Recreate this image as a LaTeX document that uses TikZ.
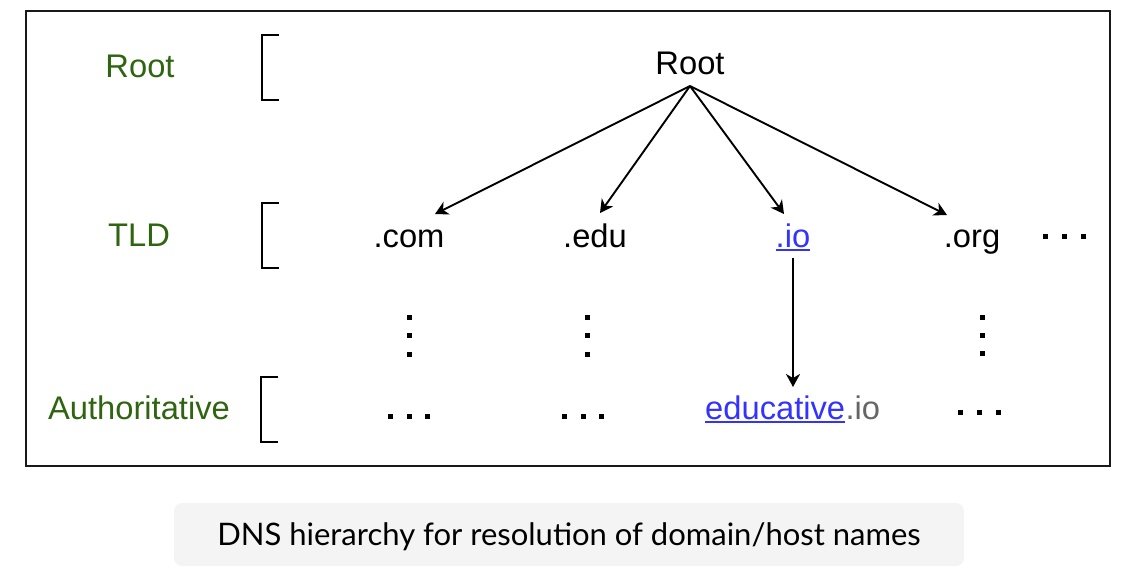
\documentclass[tikz,border=0pt]{standalone}
\usepackage{fontspec}
\setmainfont{Liberation Sans}
\newfontfamily\capfont{Lato}
\usetikzlibrary{arrows.meta}
\definecolor{lvlgreen}{HTML}{2F6410}
\definecolor{linkblue}{HTML}{3333FF}
\definecolor{iogray}{HTML}{666666}
\definecolor{capbg}{HTML}{F4F4F4}
\begin{document}
\begin{tikzpicture}[x=1pt,y=-1pt,
  txt/.style={inner sep=0pt, anchor=base, font=\fontsize{32.7}{39}\selectfont},
  lvl/.style={txt, text=lvlgreen},
  link/.style={txt, text=linkblue},
  arr/.style={line width=1.9pt, -{Stealth[length=13pt,width=14pt,inset=4pt]}},
  brk/.style={line width=1.8pt},
  sq/.style={fill=black, minimum size=5pt, inner sep=0pt, draw=none}
]
\useasboundingbox (0,0) rectangle (1142,572);
% frame
\draw[line width=1.8pt, draw=black!90] (26,11) rectangle (1110,466);
% level labels
\node[lvl] (lroot) at (140,78) {Root};
\node[lvl] (ltld) at (139,246) {TLD};
\node[lvl] (lauth) at (139,419) {Authoritative};
% brackets
\draw[brk] (279,35) -- (262,35) -- (262,100) -- (279,100);
\draw[brk] (279,203) -- (262,203) -- (262,268) -- (279,268);
\draw[brk] (278,377) -- (261,377) -- (261,442) -- (278,442);
% nodes
\node[txt] (root) at (690,75) {Root};
\node[txt] (com) at (409,247) {.com};
\node[txt] (edu) at (595,247) {.edu};
\node[link] (io) at (793,247) {.io};
\node[txt] (org) at (972,247) {.org};
\draw[linkblue, line width=1.6pt] ([yshift=-3pt]io.base west) -- ([yshift=-3pt]io.base east);
\node[link, anchor=base west] (educ) at (705,419) {educative};
\node[txt, anchor=base west, text=iogray] (eio) at (educ.base east) {.io};
\draw[linkblue, line width=1.6pt] ([yshift=-3pt]educ.base west) -- ([yshift=-3pt]educ.base east);
% connector ends
\coordinate (rootb) at (690,86);
\coordinate (comtip) at (435,214);
\coordinate (edutip) at (600,213);
\coordinate (iotip) at (784,214);
\coordinate (orgtip) at (947,215);
\coordinate (iob) at (793,258);
\coordinate (eductip) at (793,387);
\draw[arr] (rootb) -- (comtip);
\draw[arr] (rootb) -- (edutip);
\draw[arr] (rootb) -- (iotip);
\draw[arr] (rootb) -- (orgtip);
\draw[arr] (iob) -- (eductip);
% ellipses (dots)
\foreach \x/\y in {1045/236,1064/236,1083/236,
                   409/317,409/335,409/354,
                   587/317,587/335,587/354,
                   982/317,982/335,982/353,
                   390/416,409/416,427/416,
                   564/416,583/416,601/416,
                   960/412,979/412,998/412}
  \node[sq] at (\x,\y) {};
% caption
\fill[capbg, rounded corners=8pt] (174,503) rectangle (964,566);
\node[inner sep=0pt, anchor=base, font=\capfont\fontsize{31}{37}\selectfont] (cap) at (569,545) {DNS hierarchy for resolution of domain/host names};
\end{tikzpicture}
\end{document}
